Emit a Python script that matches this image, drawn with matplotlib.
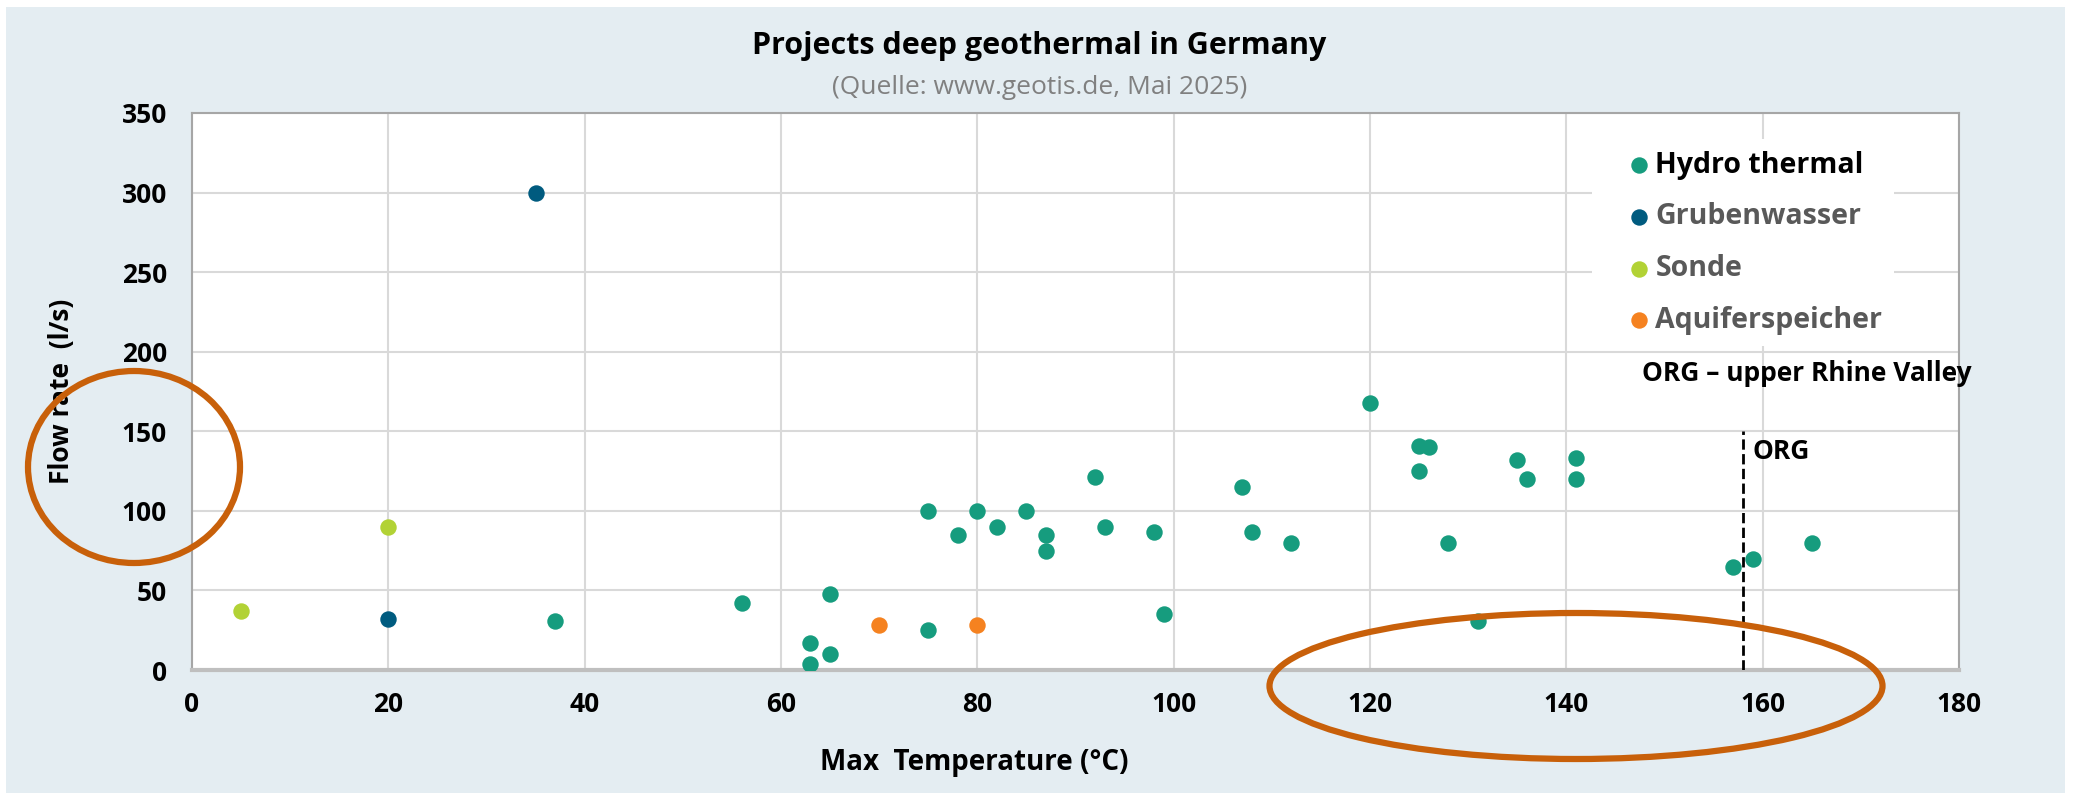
import matplotlib.pyplot as plt
from matplotlib.patches import Ellipse, Rectangle

# Daten
hydro_t = [37, 56, 63, 63, 65, 65, 75, 75, 78, 80, 82, 85, 87, 87, 92, 93, 98, 99,
           107, 108, 112, 120, 125, 126, 125, 128, 131, 135, 136, 141, 141, 157, 159, 165]
hydro_q = [31, 42, 17, 4, 10, 48, 100, 25, 85, 100, 90, 100, 85, 75, 121, 90, 87, 35,
           115, 87, 80, 168, 141, 140, 125, 80, 31, 132, 120, 133, 120, 65, 70, 80]
gruben_t = [35, 20]
gruben_q = [300, 32]
sonde_t = [5, 20]
sonde_q = [37, 90]
aquifer_t = [70, 80]
aquifer_q = [28, 28]

x_ticks = [0, 20, 40, 60, 80, 100, 120, 140, 160, 180]
y_ticks = [0, 50, 100, 150, 200, 250, 300, 350]
org_x = 158
org_top = 150

plt.rcParams['font.family'] = ['Open Sans', 'DejaVu Sans']

bg = '#E4EDF2'
fig = plt.figure(figsize=(20.8, 7.97), dpi=100)
fig.patch.set_facecolor('white')
fig.patches.append(Rectangle((0.003, 0.005), 0.99, 0.986, transform=fig.transFigure,
                             facecolor=bg, edgecolor='none', zorder=-10))

ax = fig.add_axes([0.0923, 0.1593, 0.8495, 0.699])
ax.set_facecolor('white')

s = 140
ax.scatter(hydro_t, hydro_q, s=s, color='#169C7E', label='Hydro thermal', zorder=3, linewidths=0)
ax.scatter(gruben_t, gruben_q, s=s, color='#005B7F', label='Grubenwasser', zorder=3, linewidths=0)
ax.scatter(sonde_t, sonde_q, s=s, color='#B2D235', label='Sonde', zorder=3, linewidths=0)
ax.scatter(aquifer_t, aquifer_q, s=s, color='#F58220', label='Aquiferspeicher', zorder=3, linewidths=0)

# ORG Linie
ax.plot([org_x, org_x], [0, org_top], color='black', linestyle='--', linewidth=2, zorder=4)
ax.text(org_x + 1, 137, 'ORG', fontsize=19, fontweight='bold', va='center', ha='left')
ax.text(147.7, 186, 'ORG – upper Rhine Valley', fontsize=19, fontweight='bold', va='center', ha='left')

ax.set_xlim(0, 180)
ax.set_ylim(0, 350)
ax.set_xticks(x_ticks)
ax.set_yticks(y_ticks)
ax.grid(True, color='#D9D9D9', linewidth=1.5, zorder=0)
ax.set_axisbelow(True)
ax.tick_params(length=0, labelsize=19)
for lbl in ax.get_xticklabels() + ax.get_yticklabels():
    lbl.set_fontweight('bold')
ax.tick_params(axis='y', pad=18)
ax.tick_params(axis='x', pad=15)

for side in ['left', 'right', 'top']:
    ax.spines[side].set_color('#A6A6A6')
    ax.spines[side].set_linewidth(1.5)
ax.spines['bottom'].set_color('#BFBFBF')
ax.spines['bottom'].set_linewidth(3)

ax.set_xlabel('Max  Temperature (°C)', fontsize=20, fontweight='bold')
ax.xaxis.set_label_coords(0.443, -0.14)
ax.set_ylabel('Flow rate  (l/s)', fontsize=19, fontweight='bold')
ax.yaxis.set_label_coords(-0.066, 0.5)

leg = ax.legend(loc='upper left', bbox_to_anchor=(0.7923, 0.953), frameon=True,
                facecolor='white', edgecolor='none', framealpha=1, fontsize=20.5,
                handlelength=2.5, handletextpad=-0.67, labelspacing=0.8,
                markerscale=1.0, borderpad=0.4, borderaxespad=0)
for i, t in enumerate(leg.get_texts()):
    t.set_fontweight('bold')
    t.set_color('black' if i == 0 else '#595959')

fig.text(0.4995, 0.942, 'Projects deep geothermal in Germany', fontsize=22,
         fontweight='bold', ha='center', va='center')
fig.text(0.5, 0.890, '(Quelle: www.geotis.de, Mai 2025)', fontsize=19,
         color='#808080', ha='center', va='center')

# orange Markierungen
fig.patches.append(Ellipse((134 / 2080, 1 - 467 / 797), 212 / 2080, 192 / 797,
                           transform=fig.transFigure, fill=False, edgecolor='#C8600A',
                           linewidth=4.5, zorder=10))
fig.patches.append(Ellipse((1576 / 2080, 1 - 686 / 797), 613 / 2080, 146 / 797,
                           transform=fig.transFigure, fill=False, edgecolor='#C8600A',
                           linewidth=4.5, zorder=10))

fig.savefig('out.png', dpi=100, facecolor=fig.get_facecolor())
